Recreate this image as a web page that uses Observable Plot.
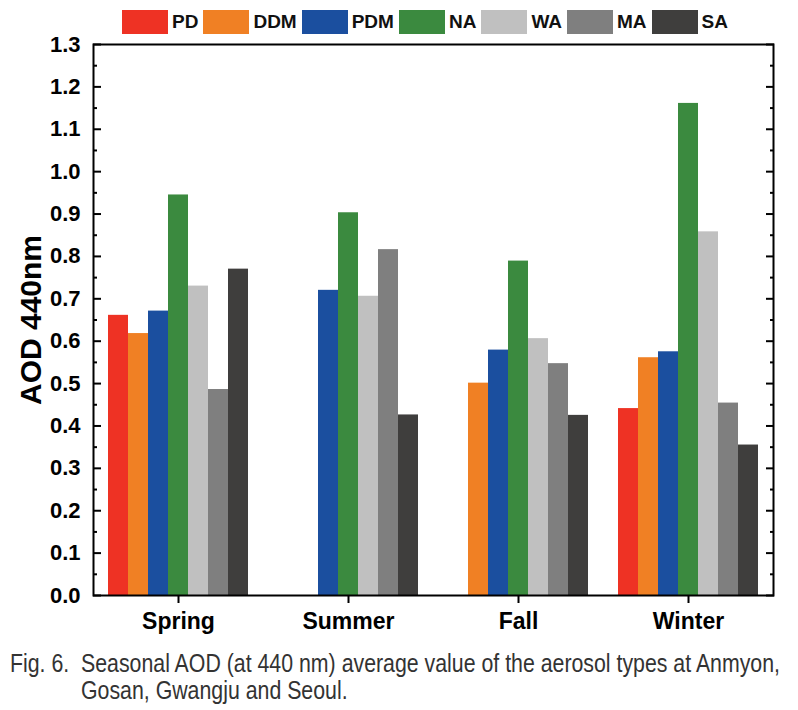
<!DOCTYPE html>
<html><head><meta charset="utf-8">
<script src="https://cdn.jsdelivr.net/npm/d3@7"></script>
<script src="https://cdn.jsdelivr.net/npm/@observablehq/plot@0.6"></script>
<style>
body{margin:0;background:#fff;font-family:"Liberation Sans",Arial,sans-serif;width:798px;}
#legend{display:flex;align-items:center;height:24px;padding-top:10px;margin-left:122px;margin-bottom:-6px;position:relative;z-index:1;}
#legend .sw{width:46px;height:24px;margin-right:4px;box-sizing:border-box;}
#legend .lb{font-weight:bold;font-size:19px;margin-right:5px;color:#111;}
#chart svg{background:transparent;}
#caption{margin-top:10px;font-family:"Liberation Sans",Arial,sans-serif;font-size:25px;line-height:27px;color:#333;position:relative;height:60px;}
#caption .fig{position:absolute;left:10px;top:0;white-space:nowrap;transform-origin:left top;}
#caption .ln{position:absolute;left:81px;white-space:nowrap;transform-origin:left top;}
</style></head><body>
<div id="legend"></div>
<div id="chart"></div>
<div id="caption"><span class="fig">Fig. 6.</span><span class="ln" id="l1" style="top:0">Seasonal AOD (at 440 nm) average value of the aerosol types at Anmyon,</span><span class="ln" id="l2" style="top:27px">Gosan, Gwangju and Seoul.</span></div>
<script>
const seasons = ["Spring", "Summer", "Fall", "Winter"];
const types = ["PD", "DDM", "PDM", "NA", "WA", "MA", "SA"];
const colors = ["#ee3224", "#f08024", "#1b4f9f", "#3b8a3f", "#c0c0c0", "#7f7f7f", "#3f3e3d"];
// values per type, in season order (null = no bar)
const PD  = [0.661, null, null, 0.441];
const DDM = [0.618, null, 0.501, 0.561];
const PDM = [0.671, 0.720, 0.579, 0.575];
const NA  = [0.945, 0.903, 0.789, 1.161];
const WA  = [0.730, 0.706, 0.606, 0.858];
const MA  = [0.486, 0.816, 0.547, 0.454];
const SA  = [0.770, 0.426, 0.425, 0.355];
const yTicks = [0, 0.1, 0.2, 0.3, 0.4, 0.5, 0.6, 0.7, 0.8, 0.9, 1.0, 1.1, 1.2, 1.3];
const yMinorTicks = [0.05, 0.15, 0.25, 0.35, 0.45, 0.55, 0.65, 0.75, 0.85, 0.95, 1.05, 1.15, 1.25];
const yLabel = "AOD 440nm";

const series = [PD, DDM, PDM, NA, WA, MA, SA];
const rows = [];
types.forEach((t, i) => series[i].forEach((v, j) => {
  if (v != null) rows.push({season: seasons[j], type: t, value: v});
}));

// legend
const leg = document.getElementById("legend");
types.forEach((t, i) => {
  const s = document.createElement("div"); s.className = "sw"; s.style.background = colors[i];
  const l = document.createElement("div"); l.className = "lb"; l.textContent = t;
  leg.appendChild(s); leg.appendChild(l);
});

const chart = Plot.plot({
  width: 798,
  height: 612,
  marginLeft: 92,
  marginRight: 25,
  marginTop: 16,
  marginBottom: 45,
  style: {fontFamily: "'Liberation Sans', Arial, sans-serif", color: "#000", background: "transparent"},
  fx: {domain: seasons, padding: 0, label: null},
  x: {domain: types, paddingInner: 0, paddingOuter: 0.75, round: false, axis: null},
  y: {domain: [0, 1.3], label: null},
  color: {domain: types, range: colors},
  marks: [
    Plot.barY(rows, {fx: "season", x: "type", y: "value", fill: "type"}),
    Plot.frame({facet: "super", strokeWidth: 2}),
    Plot.axisY({anchor: "left", ticks: yTicks, tickSize: -8, tickPadding: 21, tickFormat: d3.format(".1f"), fontSize: 22, fontWeight: "bold", strokeWidth: 2, label: null}),
    Plot.axisY({anchor: "left", ticks: yMinorTicks, tickSize: -4, text: null, strokeWidth: 2, label: null}),
    Plot.axisY({anchor: "right", ticks: yTicks, tickSize: -8, text: null, strokeWidth: 2, label: null}),
    Plot.axisY({anchor: "right", ticks: yMinorTicks, tickSize: -4, text: null, strokeWidth: 2, label: null}),
    Plot.axisFx({anchor: "bottom", tickSize: 8, tickPadding: 9, fontSize: 23, fontWeight: "bold", strokeWidth: 2, label: null}),
    Plot.text([yLabel], {facet: "super", frameAnchor: "left", dx: -62, rotate: -90, text: d => d, fontSize: 30, fontWeight: "bold", textAnchor: "middle", lineAnchor: "middle"})
  ]
});
document.getElementById("chart").appendChild(chart);

// condense caption lines to the reference's narrow typeface width
const l1 = document.getElementById("l1");
const k = 699 / l1.getBoundingClientRect().width;
document.querySelectorAll("#caption .ln, #caption .fig").forEach(e => e.style.transform = `scaleX(${k})`);
</script>
</body></html>
